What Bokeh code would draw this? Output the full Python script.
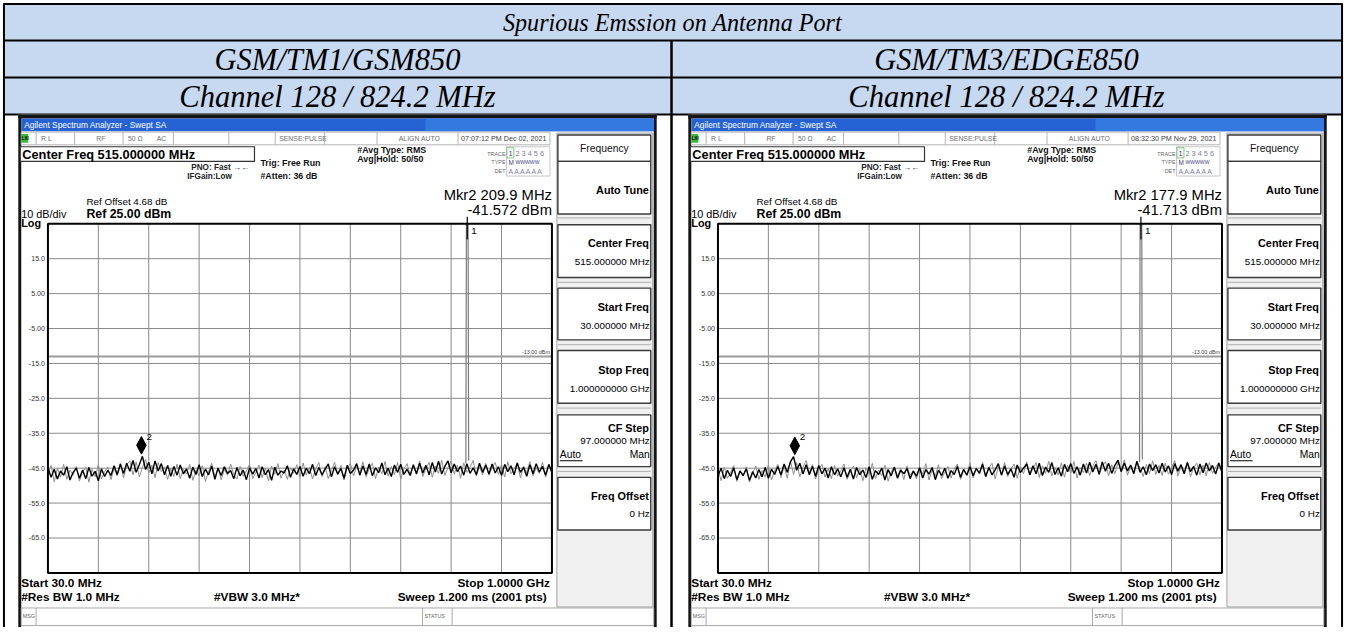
import numpy as np
from bokeh.plotting import figure
from bokeh.models import Range1d
from bokeh.core.properties import value
from bokeh.embed import file_html
from bokeh.resources import INLINE

# ---------------- data ----------------
table_title = "Spurious Emssion on Antenna Port"
test_modes = ["GSM/TM1/GSM850", "GSM/TM3/EDGE850"]
channel_labels = ["Channel 128 / 824.2 MHz", "Channel 128 / 824.2 MHz"]
timestamps = ["07:07:12 PM Dec 02, 2021", "08:32:30 PM Nov 29, 2021"]
mkr2_freq_mhz = [209.9, 177.9]
mkr2_level_dbm = [-41.572, -41.713]
mkr2_freq_text = ["Mkr2 209.9 MHz", "Mkr2 177.9 MHz"]
mkr2_level_text = ["-41.572 dBm", "-41.713 dBm"]
mkr1_freq_mhz = [837.0, 844.0]
start_mhz, stop_mhz = 30.0, 1000.0
ref_dbm, db_div, n_div = 25.0, 10.0, 10
limit_dbm = -13.0
level_ticks = [15, 5, -5, -15, -25, -35, -45, -55, -65]
level_tick_labels = ["15.0", "5.00", "-5.00", "-15.0", "-25.0", "-35.0", "-45.0", "-55.0", "-65.0"]
freq_grid_mhz = [127, 224, 321, 418, 515, 612, 709, 806, 903]

left_trace_dbm = [
    -44.9, -47.6, -45.3, -48.1, -45.8, -47.0, -44.6, -48.4, -46.2, -45.0, -47.9, -45.5, -48.0, -44.8, -47.3, -45.9, -48.6, -45.2, -47.4, -45.6,
    -47.1, -44.3, -46.8, -43.9, -46.5, -43.6, -45.9, -42.8, -46.2, -44.0, -41.6, -45.4, -43.3, -46.6, -42.9, -45.8, -43.7, -46.9, -44.2, -47.3,
    -44.5, -47.0, -44.1, -46.6, -45.2, -47.9, -44.7, -46.8, -44.0, -47.4, -45.3, -46.9, -44.4, -48.2, -45.0, -47.1, -44.6, -46.5, -45.7, -48.0,
    -44.8, -47.2, -45.5, -48.3, -44.9, -46.7, -45.1, -47.8, -44.6, -46.9, -45.4, -48.5, -44.7, -47.0, -45.8, -46.4, -44.3, -47.6, -45.2, -46.8,
    -44.5, -47.3, -45.0, -46.6, -43.9, -47.1, -44.8, -46.9, -45.3, -43.8, -47.5, -44.6, -46.7, -45.1, -47.9, -44.2, -46.5, -45.6, -43.7, -47.0,
    -44.4, -46.8, -43.8, -47.2, -44.9, -46.3, -43.5, -46.9, -45.0, -47.4, -44.1, -46.2, -43.9, -46.8, -45.3, -47.1, -44.0, -46.6, -43.6, -46.4,
    -44.2, -46.9, -43.4, -46.1, -43.0, -46.7, -44.5, -42.9, -46.3, -43.8, -46.0, -44.4, -47.0, -43.7, -46.5, -44.9, -46.8, -43.6, -46.2, -44.1,
    -46.7, -43.8, -46.4, -44.6, -47.1, -43.9, -46.0, -44.3, -46.9, -43.5, -46.2, -44.8, -47.3, -44.0, -46.6, -43.7, -46.1, -44.5, -47.0, -43.9, -46.3,
]
left_trace_gray_dbm = [
    -46.3, -44.2, -48.9, -45.0, -47.6, -43.9, -48.2, -45.6, -47.0, -44.5, -48.7, -46.1, -44.8, -49.0, -45.3, -47.5, -44.0, -48.1, -46.0, -44.7,
    -48.3, -45.1, -47.2, -43.5, -47.8, -44.0, -42.9, -46.9, -43.2, -47.5, -44.8, -42.5, -46.4, -44.1, -47.7, -43.4, -46.0, -44.6, -48.2, -45.0,
    -47.4, -43.8, -48.0, -45.3, -46.7, -43.9, -48.5, -45.6, -47.2, -44.3, -48.8, -45.9, -43.6, -47.5, -44.9, -48.3, -45.4, -47.0, -43.8, -46.9,
    -48.1, -44.5, -47.3, -45.8, -43.9, -48.0, -46.3, -44.1, -47.7, -45.0, -48.6, -44.4, -46.8, -43.7, -47.9, -45.5, -48.2, -44.9, -46.5, -44.0,
    -47.6, -43.5, -46.9, -44.8, -48.1, -45.2, -43.4, -47.4, -44.6, -48.0, -45.7, -43.3, -46.8, -44.2, -48.4, -45.0, -43.6, -47.2, -44.5, -46.3,
    -43.2, -47.5, -45.1, -43.6, -48.0, -44.7, -46.6, -43.1, -47.3, -44.5, -46.9, -43.4, -48.1, -45.2, -43.7, -47.0, -44.3, -46.8, -42.9, -47.4,
    -45.0, -43.3, -47.6, -44.4, -46.5, -42.7, -47.1, -44.8, -43.0, -46.7, -44.1, -47.9, -43.5, -46.2, -44.7, -42.8, -47.3, -44.6, -46.9, -43.6,
    -47.0, -44.9, -43.4, -46.8, -44.0, -47.5, -43.2, -46.6, -45.1, -43.5, -47.8, -44.4, -46.3, -43.1, -47.2, -44.8, -46.5, -43.3, -47.6, -44.2, -45.9,
]
left_spike_mhz = [834.3, 835.4, 838.6, 839.7]
left_spike_dbm = [-43.6, 25.0, 25.0, -42.8]

right_trace_dbm = [
    -47.2, -45.0, -48.0, -45.6, -47.4, -44.9, -48.3, -45.8, -47.1, -45.2, -48.5, -46.0, -47.8, -45.4, -47.5, -44.8, -47.9, -45.3, -46.8, -44.5,
    -46.9, -43.8, -46.2, -43.2, -41.7, -45.6, -43.6, -46.7, -44.0, -46.9, -44.5, -47.3, -44.2, -46.6, -45.0, -47.8, -44.6, -46.9, -45.2, -47.5,
    -44.9, -47.6, -45.3, -48.1, -44.8, -46.9, -45.5, -47.7, -44.6, -48.2, -45.7, -46.8, -45.0, -48.4, -45.4, -47.2, -44.7, -47.9, -45.6, -46.6,
    -45.1, -48.0, -45.8, -47.3, -44.9, -47.8, -45.4, -46.7, -44.8, -48.3, -45.6, -47.1, -45.0, -47.9, -45.7, -46.8, -44.5, -47.6, -45.3, -47.0,
    -44.6, -47.2, -45.1, -46.5, -43.9, -47.4, -44.8, -46.9, -45.5, -43.7, -47.0, -44.4, -46.8, -45.2, -47.6, -44.1, -46.3, -45.0, -43.8, -46.9,
    -44.3, -46.6, -43.6, -47.1, -44.7, -46.2, -43.4, -46.8, -44.9, -47.3, -43.9, -46.0, -43.7, -46.5, -44.6, -47.0, -43.8, -46.4, -43.3, -46.1,
    -43.9, -46.7, -43.2, -45.9, -43.6, -46.5, -44.2, -42.7, -46.0, -43.5, -45.8, -44.1, -46.6, -43.0, -46.2, -44.6, -46.9, -43.8, -45.7, -44.0,
    -46.4, -43.6, -46.1, -44.3, -46.8, -43.7, -45.9, -44.0, -46.6, -43.4, -46.0, -44.5, -47.0, -43.8, -46.3, -43.5, -45.8, -44.2, -46.7, -43.6, -46.0,
]
right_trace_gray_dbm = [
    -45.4, -48.6, -44.7, -47.9, -46.2, -44.3, -48.8, -45.9, -47.3, -44.6, -49.0, -46.5, -44.4, -48.2, -45.7, -47.6, -44.1, -48.4, -45.8, -43.9,
    -47.7, -44.5, -47.9, -42.9, -46.8, -43.4, -47.5, -44.7, -42.8, -46.3, -44.0, -48.1, -45.3, -43.9, -47.6, -45.1, -48.0, -44.2, -47.3, -45.7,
    -43.8, -48.2, -46.0, -44.4, -47.7, -45.2, -48.6, -44.9, -46.8, -43.6, -48.0, -45.5, -47.2, -44.2, -48.7, -46.1, -44.6, -47.4, -45.0, -48.3,
    -44.3, -47.0, -45.9, -48.1, -44.6, -46.7, -43.7, -48.4, -45.4, -47.2, -44.0, -48.0, -46.2, -44.5, -47.8, -45.3, -43.8, -48.2, -45.6, -46.9,
    -43.5, -47.8, -44.9, -46.2, -43.3, -47.5, -45.0, -43.6, -48.1, -44.7, -46.8, -43.4, -47.4, -45.3, -43.8, -47.9, -44.5, -46.6, -43.2, -47.0,
    -45.2, -43.4, -47.7, -44.3, -46.5, -43.0, -47.2, -44.8, -46.9, -43.5, -47.6, -44.2, -46.4, -43.1, -47.8, -44.9, -46.3, -43.6, -47.1, -44.4,
    -42.8, -46.9, -44.5, -43.1, -47.2, -44.0, -46.6, -43.4, -45.9, -42.6, -47.0, -44.7, -46.1, -43.3, -44.8, -47.4, -43.9, -46.5, -42.9, -46.8,
    -44.2, -47.1, -43.5, -46.7, -44.9, -42.8, -47.3, -44.4, -46.2, -43.2, -47.5, -44.8, -43.6, -46.9, -44.1, -47.2, -43.4, -46.5, -44.7, -43.3, -46.6,
]
right_spike_mhz = [841.3, 842.4, 845.6, 846.7]
right_spike_dbm = [-43.2, 25.0, 25.0, -42.5]

traces = [left_trace_dbm, right_trace_dbm]
traces_gray = [left_trace_gray_dbm, right_trace_gray_dbm]
spikes_f = [left_spike_mhz, right_spike_mhz]
spikes_l = [left_spike_dbm, right_spike_dbm]

# ---------------- layout (reference pixel coordinates) ----------------
FX0, FX1, FY0, FY1 = 0, 1361, 0, 643
PX_L, PX_R, PY_T, PY_B = 48, 558, 229, 587
OFFS = [0, 678]
FS = 0.985  # font scale (figure is slightly smaller than the reference)

p = figure(width=1345, height=627, x_range=Range1d(FX0, FX1), y_range=Range1d(FY1, FY0),
           output_backend="svg", toolbar_location=None, min_border=0,
           x_axis_location=None, y_axis_location=None)
p.outline_line_color = None
p.xgrid.grid_line_color = None
p.ygrid.grid_line_color = None
p.background_fill_color = "white"
p.border_fill_color = "white"

mpp = (stop_mhz - start_mhz) / (PX_R - PX_L)
bottom_db = ref_dbm - db_div * n_div
dpp = (db_div * n_div) / (PY_B - PY_T)
p.extra_y_ranges = {"dbm": Range1d(bottom_db - (FY1 - PY_B) * dpp, ref_dbm + (PY_T - FY0) * dpp)}
xr_dict = {}
for k, ox in enumerate(OFFS):
    xr_dict["f%d" % k] = Range1d(start_mhz - (PX_L + ox - FX0) * mpp,
                                 stop_mhz + (FX1 - (PX_R + ox)) * mpp)
p.extra_x_ranges = xr_dict

SANS = "Liberation Sans"


def txt(xs, ys, texts, size, style="normal", align="left", color="#000000", font=SANS,
        baseline="middle", xr=None, yr=None, x_offset=0, y_offset=0):
    kw = {}
    if xr:
        kw["x_range_name"] = xr
    if yr:
        kw["y_range_name"] = yr
    p.text(x=xs, y=ys, text=texts, text_font=value(font), text_font_size="%.2fpx" % (size * FS),
           text_font_style=style, text_align=align, text_baseline=baseline, text_color=color,
           x_offset=x_offset, y_offset=y_offset, **kw)


def box(l, r, t, b, fill, line=None, lw=1.0):
    p.quad(left=[l], right=[r], top=[t], bottom=[b], fill_color=fill,
           line_color=line, line_width=lw)


def seg(x0, y0, x1, y1, color, lw=1.0, **kw):
    p.segment(x0=x0, y0=y0, x1=x1, y1=y1, line_color=color, line_width=lw, **kw)


# ---------------- table ----------------
HDR = "#C6D9F1"
box(3, 1358, 3, 41, HDR)
box(3, 1358, 41, 79, HDR)
box(3, 1358, 79, 117, HDR)
seg([3, 3, 3, 3], [3.5, 41, 79, 117], [1358, 1358, 1358, 1358], [3.5, 41, 79, 117], "#000000", 2)
seg([3.5, 1357.5], [3, 3], [3.5, 1357.5], [643, 643], "#000000", 2)
seg([679], [41], [679], [643], "#000000", 2.5)

SERIF = "Liberation Serif"
txt([680], [23], [table_title], 24.5, "italic", "center", font=SERIF)
txt([341, 1018], [61, 61], test_modes, 31, "italic", "center", font=SERIF)
txt([341, 1018], [99, 99], channel_labels, 31, "italic", "center", font=SERIF)

# ---------------- screenshots ----------------
for k, S in enumerate(OFFS):
    xr = "f%d" % k
    # canvas and dark frame
    box(18 + S, 664 + S, 117, 643, "white")
    box(18 + S, 21 + S, 117, 643, "#141414")
    box(661 + S, 664 + S, 117, 643, "#141414")
    box(18 + S, 664 + S, 117, 121, "#141414")
    # title bar
    box(21 + S, 661 + S, 121, 134, "#2563D4")
    box(430 + S, 661 + S, 121, 134, "#3479E0")
    txt([24 + S], [128], ["Agilent Spectrum Analyzer - Swept SA"], 8.5, "normal", "left", "#FFFFFF")

    # status row
    box(21 + S, 556 + S, 135, 148, "white", "#B4B4B4", 1)
    vx = [36, 75, 124, 175, 231, 278, 328, 381, 463]
    seg([v + S for v in vx], [135] * len(vx), [v + S for v in vx], [148] * len(vx), "#B4B4B4", 1)
    box(21 + S, 28 + S, 137, 146, "#3DB83F")
    txt([21.5 + S], [141.5], ["LXI"], 4.5, "bold", "left", "#000000")
    txt([41 + S, 97 + S, 129 + S, 158 + S, 282 + S, 403 + S],
        [141.5] * 6, ["R L", "RF", "50 \u03a9", "AC", "SENSE:PULSE", "ALIGN AUTO"], 7, "normal", "left", "#6E6E6E")
    txt([466 + S], [141.5], [timestamps[k]], 7.3, "normal", "left", "#3C3C3C")

    # center freq box
    box(20 + S, 257 + S, 150, 165, "white", "#333333", 1.2)
    txt([22 + S], [158], ["Center Freq 515.000000 MHz"], 13, "bold", "left")

    txt([193 + S], [171], ["PNO: Fast  \u2192\u2190"], 8.3, "bold", "left", "#222222")
    txt([189 + S], [180.5], ["IFGain:Low"], 8.3, "bold", "left", "#222222")
    txt([263 + S, 263 + S], [167, 180], ["Trig: Free Run", "#Atten: 36 dB"], 9, "bold", "left", "#111111")
    txt([361 + S, 361 + S], [153, 163], ["#Avg Type: RMS", "Avg|Hold: 50/50"], 9, "bold", "left", "#111111")

    # trace / type / det block
    box(512 + S, 556 + S, 150, 180, "white", "#C8C8C8", 1)
    box(512.5 + S, 519.5 + S, 151, 161.5, None, "#7FC97F", 1)
    txt([511 + S] * 3, [157, 166, 175], ["TRACE", "TYPE", "DET"], 5.5, "normal", "right", "#666666")
    txt([514 + S], [157], ["1"], 7.5, "normal", "left", "#404080")
    txt([521 + S], [157], ["2 3 4 5 6"], 7.5, "normal", "left", "#8080A0")
    txt([514 + S], [166], ["M"], 6.5, "normal", "left", "#404080")
    txt([521 + S], [166], ["WWWWW"], 5.2, "normal", "left", "#404080")
    txt([514 + S], [175], ["A A A A A A"], 7, "normal", "left", "#8080A0")

    # marker readout
    txt([558 + S, 558 + S], [199, 215], [mkr2_freq_text[k], mkr2_level_text[k]], 15, "normal", "right")
    # ref info
    txt([87 + S], [206], ["Ref Offset 4.68 dB"], 10, "normal", "left")
    txt([87 + S], [218.5], ["Ref 25.00 dBm"], 12.5, "bold", "left")
    txt([21 + S], [219], ["10 dB/div"], 11, "normal", "left")
    txt([21 + S], [228], ["Log"], 11, "bold", "left")

    # graticule
    seg(freq_grid_mhz, [ref_dbm] * len(freq_grid_mhz), freq_grid_mhz, [bottom_db] * len(freq_grid_mhz),
        "#8A8A8A", 1, x_range_name=xr, y_range_name="dbm")
    seg([start_mhz] * len(level_ticks), level_ticks, [stop_mhz] * len(level_ticks), level_ticks,
        "#8A8A8A", 1, x_range_name=xr, y_range_name="dbm")
    seg([start_mhz], [limit_dbm], [stop_mhz], [limit_dbm], "#9C9C9C", 2, x_range_name=xr, y_range_name="dbm")
    txt([556 + S], [limit_dbm], ["-13.00 dBm"], 5.5, "normal", "right", "#444444",
        baseline="bottom", yr="dbm", y_offset=-1)
    txt([45 + S] * len(level_ticks), level_ticks, level_tick_labels, 7.2, "normal", "right", "#333333", yr="dbm")

    # traces
    tr = traces[k]
    trg = traces_gray[k]
    p.line(np.linspace(start_mhz, stop_mhz, len(trg)), trg, line_color="#8E8E8E", line_width=1,
           x_range_name=xr, y_range_name="dbm")
    p.line(np.linspace(start_mhz, stop_mhz, len(tr)), tr, line_color="#000000", line_width=1.4,
           x_range_name=xr, y_range_name="dbm")
    p.line(spikes_f[k], spikes_l[k], line_color="#7C7C7C", line_width=1.2, x_range_name=xr, y_range_name="dbm")

    # plot border
    p.quad(left=[start_mhz], right=[stop_mhz], top=[ref_dbm], bottom=[bottom_db], fill_color=None,
           line_color="#000000", line_width=2, x_range_name=xr, y_range_name="dbm")

    # marker 1
    m1 = mkr1_freq_mhz[k]
    seg([m1], [ref_dbm + 2.0], [m1], [ref_dbm - 4.5], "#000000", 1.2, x_range_name=xr, y_range_name="dbm")
    txt([m1], [ref_dbm - 2.0], ["1"], 10, "normal", "left", xr=xr, yr="dbm", x_offset=4)

    # marker 2 diamond
    f2, l2 = mkr2_freq_mhz[k], mkr2_level_dbm[k]
    hw = 4.8 * mpp
    hh = 9.0 * dpp
    base = l2 + 0.6
    p.patch([f2, f2 + hw, f2, f2 - hw], [base, base + hh, base + 2 * hh, base + hh],
            fill_color="#000000", line_color="#000000", x_range_name=xr, y_range_name="dbm")
    txt([f2], [base + 2 * hh], ["2"], 10, "normal", "left", xr=xr, yr="dbm", x_offset=5)

    # softkey panel
    box(563 + S, 660 + S, 136, 622, "#F0F0F0", "#A0A0A0", 1)
    keys = [(138, 165), (165, 219), (230, 284), (295, 348), (359, 413), (425, 478), (489, 543)]
    for (t, b) in keys:
        box(564 + S, 658 + S, t, b, "white", "#3A3A3A", 1.4)
    seg([564 + S] * 5, [223, 289, 353, 418, 483], [658 + S] * 5, [223, 289, 353, 418, 483], "#B0B0B0", 1)
    txt([611 + S], [151.5], ["Frequency"], 10.5, "normal", "center", "#111111")
    txt([656 + S] * 6, [194, 249, 314, 379, 438, 508],
        ["Auto Tune", "Center Freq", "Start Freq", "Stop Freq", "CF Step", "Freq Offset"], 11, "bold", "right")
    txt([657 + S] * 5, [268, 333, 398, 451, 526],
        ["515.000000 MHz", "30.000000 MHz", "1.000000000 GHz", "97.000000 MHz", "0 Hz"], 10, "normal", "right")
    txt([566 + S], [466], ["Auto"], 10.5, "normal", "left")
    seg([566 + S], [472], [589 + S], [472], "#000000", 1)
    txt([657 + S], [466], ["Man"], 10.5, "normal", "right")

    # bottom annotations
    txt([21 + S, 21 + S], [597, 612], ["Start 30.0 MHz", "#Res BW 1.0 MHz"], 12, "bold", "left")
    txt([216 + S], [612], ["#VBW 3.0 MHz*"], 12, "bold", "left")
    txt([556 + S, 556 + S], [597, 612], ["Stop 1.0000 GHz", "Sweep  1.200 ms (2001 pts)"], 12, "bold", "right")

    # message bar
    box(21 + S, 661 + S, 623, 641, "white", "#A8A8A8", 1)
    seg([36 + S, 427 + S, 457 + S], [623] * 3, [36 + S, 427 + S, 457 + S], [641] * 3, "#A8A8A8", 1)
    txt([22.5 + S], [631], ["MSG"], 5.5, "normal", "left", "#666666")
    txt([429 + S], [631], ["STATUS"], 5.5, "normal", "left", "#666666")

open("out.html", "w").write(file_html(p, INLINE))
